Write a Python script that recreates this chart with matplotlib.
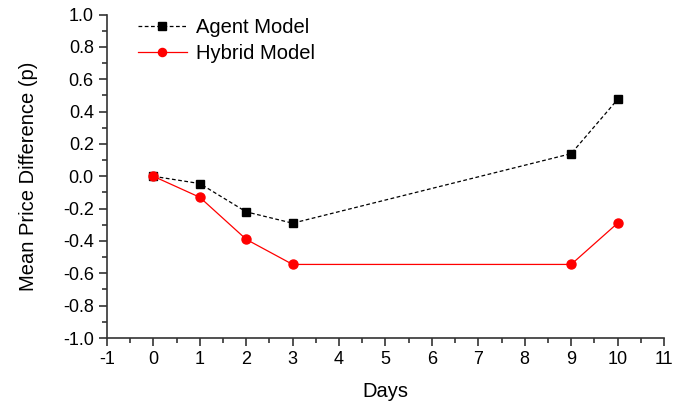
import matplotlib
matplotlib.use("Agg")
import matplotlib.pyplot as plt
from matplotlib.ticker import MultipleLocator, FormatStrFormatter

days = [0, 1, 2, 3, 9, 10]
agent = [0.0, -0.045, -0.22, -0.29, 0.14, 0.475]
hybrid = [0.0, -0.13, -0.39, -0.545, -0.545, -0.29]

plt.rcParams['font.family'] = ['Liberation Sans', 'DejaVu Sans']
plt.rcParams['axes.unicode_minus'] = False
fig = plt.figure(figsize=(6.73, 4.05), dpi=100)
ax = fig.add_axes([0.159, 0.1654, 0.8276, 0.7986])

ax.plot(days, agent, color='black', linestyle=(0, (3, 2)), linewidth=0.9,
        marker='s', markersize=6, label='Agent Model')
ax.plot(days, hybrid, color='red', linestyle='-', linewidth=0.9,
        marker='o', markersize=6.5, label='Hybrid Model')

ax.set_xlim(-1, 11)
ax.set_ylim(-1.0, 1.0)
ax.xaxis.set_major_locator(MultipleLocator(1))
ax.xaxis.set_minor_locator(MultipleLocator(0.5))
ax.yaxis.set_major_locator(MultipleLocator(0.2))
ax.yaxis.set_minor_locator(MultipleLocator(0.1))
ax.yaxis.set_major_formatter(FormatStrFormatter('%.1f'))

for s in ['top', 'right']:
    ax.spines[s].set_visible(False)
for s in ['left', 'bottom']:
    ax.spines[s].set_linewidth(1.2)
    ax.spines[s].set_color('#333333')
ax.tick_params(which='major', direction='out', length=6, width=1.2, labelsize=13, colors='#333333', labelcolor='black')
ax.tick_params(which='minor', direction='out', length=3.5, width=1.2, colors='#333333')

ax.set_xlabel('Days', fontsize=14.5, labelpad=10)
ax.set_ylabel('Mean Price Difference (p)', fontsize=14.5, labelpad=18)

ax.legend(loc='upper left', bbox_to_anchor=(0.056, 0.99), frameon=False, fontsize=14.5,
          handlelength=2.4, handletextpad=0.45, labelspacing=0.38,
          borderpad=0, borderaxespad=0, markerscale=0.9)

fig.savefig('out.png', dpi=100)
